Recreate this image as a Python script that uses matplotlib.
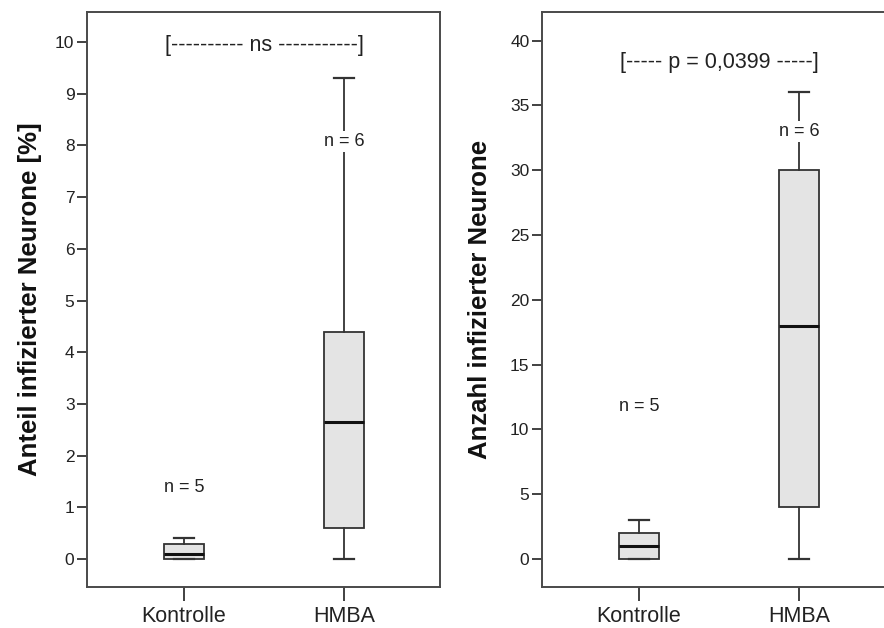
import matplotlib.pyplot as plt

plt.rcParams['font.family'] = ['Liberation Sans', 'DejaVu Sans']

groups = ["Kontrolle", "HMBA"]
n_counts = [5, 6]

# left panel: Anteil infizierter Neurone [%]
pct_low = [0.0, 0.0]
pct_q1 = [0.0, 0.6]
pct_med = [0.1, 2.65]
pct_q3 = [0.3, 4.4]
pct_high = [0.4, 9.3]

# right panel: Anzahl infizierter Neurone
cnt_low = [0, 0]
cnt_q1 = [0, 4]
cnt_med = [1, 18]
cnt_q3 = [2, 30]
cnt_high = [3, 36]

ink = "#333333"


def stats(low, q1, med, q3, high):
    return [dict(whislo=a, q1=b, med=c, q3=d, whishi=e, fliers=[], label=g)
            for a, b, c, d, e, g in zip(low, q1, med, q3, high, groups)]


def draw(ax, st, ylim, yticks, ylabel, n_y, note, note_y):
    ax.bxp(st, positions=[1, 2], widths=0.25, patch_artist=True,
           boxprops=dict(facecolor="#e4e4e4", edgecolor=ink, linewidth=1.3),
           whiskerprops=dict(color=ink, linewidth=1.3),
           capprops=dict(color=ink, linewidth=1.6),
           medianprops=dict(color="#111111", linewidth=2.2))
    ax.set_xlim(0.393, 2.6)
    ax.set_ylim(*ylim)
    ax.set_yticks(yticks)
    ax.set_xticks([1, 2])
    ax.set_xticklabels(groups, fontsize=15.5, color="#222222")
    ax.tick_params(axis="y", labelsize=12.5, labelcolor="#222222", length=7,
                   width=1.3, color=ink, pad=2)
    ax.tick_params(axis="x", length=10, width=1.3, color=ink, pad=4)
    for s in ax.spines.values():
        s.set_color("#4a4a4a")
        s.set_linewidth(1.4)
    ax.set_ylabel(ylabel, fontsize=18.5, fontweight="bold", color="#111111")
    for x, n, y in zip([1, 2], n_counts, n_y):
        ax.text(x, y, "n = %d" % n, ha="center", va="center", fontsize=13,
                color="#222222",
                bbox=dict(facecolor="white", edgecolor="none", pad=1.5))
    ax.text(1.5, note_y, note, ha="center", va="center", fontsize=15.5,
            color="#222222")


fig = plt.figure(figsize=(8.84, 6.28), dpi=100)
ax1 = fig.add_axes([0.0984, 0.0653, 0.3993, 0.9156])
ax2 = fig.add_axes([0.6131, 0.0653, 0.3993, 0.9156])

draw(ax1, stats(pct_low, pct_q1, pct_med, pct_q3, pct_high), (-0.54, 10.58),
     range(0, 11), "Anteil infizierter Neurone [%]", [1.39, 8.07],
     "[---------- ns -----------]", 9.94)
draw(ax2, stats(cnt_low, cnt_q1, cnt_med, cnt_q3, cnt_high), (-2.16, 42.2),
     range(0, 41, 5), "Anzahl infizierter Neurone", [11.8, 33.0],
     "[----- p = 0,0399 -----]", 38.3)

ax1.yaxis.set_label_coords(-0.128, 0.5)
ax2.yaxis.set_label_coords(-0.142, 0.5)

fig.savefig("out.png", dpi=100)
